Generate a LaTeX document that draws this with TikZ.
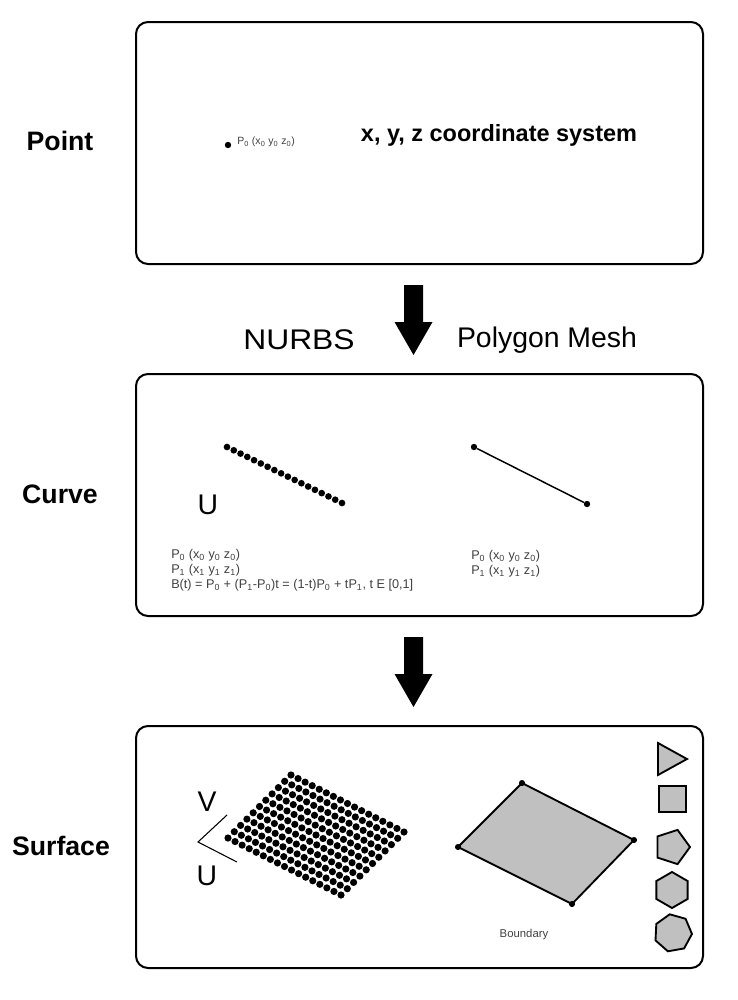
\documentclass[tikz,border=0pt]{standalone}
\usepackage{fontspec}
\setmainfont{Liberation Sans}
\usetikzlibrary{calc}
\newcommand\sbx[1]{\textsubscript{#1}}
\definecolor{shapegray}{HTML}{C0C0C0}
\definecolor{smalltext}{HTML}{404040}
\begin{document}
\begin{tikzpicture}[x=0.75pt,y=-0.75pt,
  panel/.style={draw,line width=1.5pt,rounded corners=9pt,anchor=north west,inner sep=0pt,
    minimum width=425.25pt,minimum height=181.5pt},
  rowlabel/.style={font=\bfseries\fontsize{20}{24}\selectfont},
  headlabel/.style={font=\fontsize{21.3}{25}\selectfont},
  biglabel/.style={font=\bfseries\fontsize{17.6}{21}\selectfont},
  small/.style={font=\fontsize{9.5}{11.25}\selectfont,text=smalltext,align=left,inner sep=0pt},
  dotnode/.style={circle,fill,inner sep=0pt,minimum size=4.8pt},
  blockarrow/.style={fill=black},
  shapebox/.style={draw,fill=shapegray,line width=1.4pt,line join=miter}
]
\useasboundingbox (0,0) rectangle (738,1000);

% panels
\node[panel] (box1) at (135,21) {};
\node[panel] (box2) at (135,373) {};
\node[panel] (box3) at (135,725) {};

% row labels
\node[rowlabel] (lpoint) at (60,141) {Point};
\node[rowlabel] (lcurve) at (60,494) {Curve};
\node[rowlabel] (lsurf) at (61,846) {Surface};

% headings
\node[headlabel,xscale=1.12] (nurbs) at (299,340) {NURBS};
\node[headlabel] (pmesh) at (547,340) {Polygon Mesh};

% block arrows
\coordinate (a1) at (413.5,285);
\coordinate (a2) at (413.5,637);
\foreach \c in {a1,a2}{
  \fill[blockarrow] ($(\c)+(-9.5,0)$) -- ($(\c)+(9.5,0)$) -- ($(\c)+(9.5,37)$) -- ($(\c)+(19,37)$)
    -- ($(\c)+(0,70)$) -- ($(\c)+(-19,37)$) -- ($(\c)+(-9.5,37)$) -- cycle;
}

% Point panel
\node[dotnode] (pt0) at (228,145) {};
\node[small,anchor=west,font=\fontsize{7.9}{9}\selectfont] (pt0lab) at (237,142) {P\sbx{0} (x\sbx{0} y\sbx{0} z\sbx{0})};
\node[biglabel] (xyz) at (499,135) {x, y, z coordinate system};

% Curve panel: NURBS
\foreach \i in {0,...,17}{
  \fill ({227+\i*115/17},{447+\i*56/17}) circle (2.5pt);
}
\node[headlabel] (ucurve) at (208,505) {U};
\node[small,anchor=west] (nurbstext) at (171,570) {P\sbx{0} (x\sbx{0} y\sbx{0} z\sbx{0})\\P\sbx{1} (x\sbx{1} y\sbx{1} z\sbx{1})\\B(t) = P\sbx{0} + (P\sbx{1}-P\sbx{0})t = (1-t)P\sbx{0} + tP\sbx{1}, t E [0,1]};

% Curve panel: polygon mesh
\node[dotnode] (m0) at (474,447) {};
\node[dotnode] (m1) at (587,504) {};
\draw[line width=1.1pt] (m0) -- (m1);
\node[small,anchor=west] (meshtext) at (471,563.5) {P\sbx{0} (x\sbx{0} y\sbx{0} z\sbx{0})\\P\sbx{1} (x\sbx{1} y\sbx{1} z\sbx{1})};

% Surface panel: NURBS grid
\foreach \i in {0,...,16}{
  \foreach \j in {0,...,10}{
    \fill ({291+\i*113/16-\j*6.3},{775+\i*57/16+\j*6.3}) circle (2.7pt);
  }
}
\coordinate (uvo) at (198,842);
\coordinate (uvv) at (227,815);
\coordinate (uvu) at (237,862);
\draw[line width=0.8pt] (uvv) -- (uvo) -- (uvu);
\node[headlabel] (vlab) at (207,802) {V};
\node[headlabel] (ulab) at (207,876) {U};

% Surface panel: polygon
\coordinate (q1) at (522,783);
\coordinate (q2) at (634,840);
\coordinate (q3) at (572,904);
\coordinate (q4) at (458,847);
\draw[shapebox,line width=1.4pt] (q1) -- (q2) -- (q3) -- (q4) -- cycle;
\foreach \q in {q1,q2,q3,q4}{ \fill (\q) circle (2.3pt); }
\node[small,font=\fontsize{8.5}{10}\selectfont] (boundary) at (524,935) {Boundary};

% Surface panel: shapes
\draw[shapebox] (658,743) -- (687,759) -- (658,775) -- cycle;
\draw[shapebox] (659,786) rectangle (686,812);
\draw[shapebox] (690,847) \foreach \k in {1,...,4}{ -- ({672+18*cos(72*\k)},{847+18*sin(72*\k)}) } -- cycle;
\draw[shapebox] ({672+18*cos(90)},{890-18}) \foreach \k in {1,...,5}{ -- ({672+18*cos(90+60*\k)},{890-18*sin(90+60*\k)}) } -- cycle;
\draw[shapebox] ({673+19*cos(100)},{933-19*sin(100)}) \foreach \k in {1,...,6}{ -- ({673+19*cos(100+360/7*\k)},{933-19*sin(100+360/7*\k)}) } -- cycle;
\end{tikzpicture}
\end{document}
